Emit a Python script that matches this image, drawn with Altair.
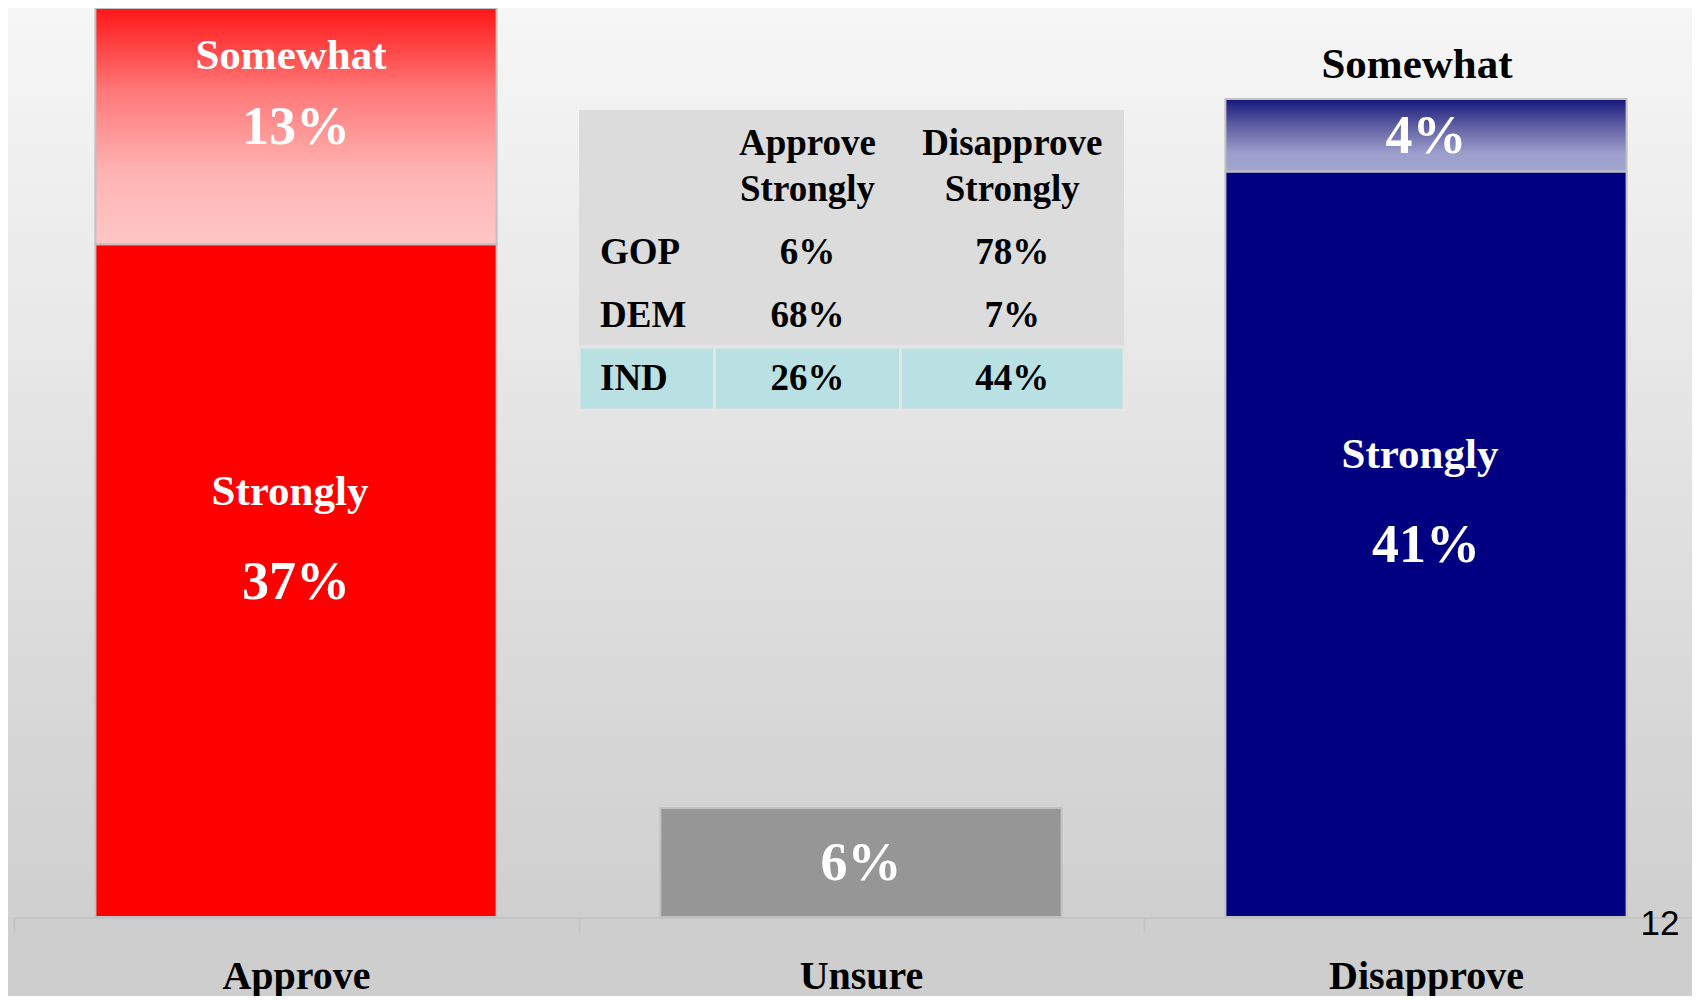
import altair as alt
import pandas as pd

# ---------------- data ----------------
categories = ["Approve", "Unsure", "Disapprove"]
segments = ["Strongly", "Somewhat"]
approve_values = [37, 13]        # Strongly, Somewhat
unsure_values = [6]
disapprove_values = [41, 4]      # Strongly, Somewhat

parties = ["GOP", "DEM", "IND"]
approve_strongly_party = [6, 68, 26]
disapprove_strongly_party = [78, 7, 44]
table_headers = ["Approve\nStrongly", "Disapprove\nStrongly"]
highlight_party = "IND"
page_number = "12"

# ---------------- tables built from the arrays ----------------
rows = []
for cat, segs, vals in [("Approve", segments, approve_values),
                        ("Unsure", ["Unsure"], unsure_values),
                        ("Disapprove", segments, disapprove_values)]:
    lo = 0
    for s, v in zip(segs, vals):
        rows.append(dict(category=cat, segment=s, value=v, lo=lo, hi=lo + v,
                         key=f"{cat} {s}", pct=f"{v}%"))
        lo += v
bars = pd.DataFrame(rows)

cells = []
for j, h in enumerate(table_headers):
    cells.append(dict(row=0, col=j + 1, text=h, party=""))
for i, p in enumerate(parties):
    cells.append(dict(row=i + 1, col=0, text=p, party=p))
    cells.append(dict(row=i + 1, col=1, text=f"{approve_strongly_party[i]}%", party=p))
    cells.append(dict(row=i + 1, col=2, text=f"{disapprove_strongly_party[i]}%", party=p))
cells = pd.DataFrame(cells)

W, H = 1684, 909
SERIF = "Liberation Serif"

# ---------------- main chart ----------------
x_axis = alt.Axis(title=None, labelAngle=0, tickBand="extent", grid=False,
                  labelFont=SERIF, labelFontWeight="bold", labelFontSize=40,
                  labelColor="black", labelBaseline="alphabetic", labelPadding=56,
                  labelLimit=600,
                  tickSize=15, tickColor="#c4c4c4", tickWidth=2,
                  domainColor="#c4c4c4", domainWidth=3)
x_enc = alt.X("category:N", sort=categories,
              scale=alt.Scale(domain=categories, range=[5.5, 1700.5],
                              paddingInner=0, paddingOuter=0),
              axis=x_axis)
y_scale = alt.Scale(domain=[0, 50], nice=False, zero=True)
BAR_W = alt.RelativeBandSize(0.71)

base = alt.Chart(bars).encode(x=x_enc)

bg = alt.Chart(pd.DataFrame({"a": [0]})).mark_rect(
    fill=alt.LinearGradient(gradient="linear", x1=0, x2=0, y1=0, y2=1,
                            stops=[alt.GradientStop(offset=0, color="#f6f6f6"),
                                   alt.GradientStop(offset=1, color="#cfcfcf")])
).encode(x=alt.value(0), x2=alt.value(W), y=alt.value(0), y2=alt.value(H))

solid = base.transform_filter(
    alt.FieldOneOfPredicate(field="segment", oneOf=["Strongly", "Unsure"])
).mark_bar(stroke="#c0c0c0", strokeWidth=2, width=BAR_W).encode(
    y=alt.Y("lo:Q", scale=y_scale, axis=None),
    y2="hi:Q",
    fill=alt.Fill("key:N",
                  scale=alt.Scale(domain=["Approve Strongly", "Unsure Unsure", "Disapprove Strongly"],
                                  range=["#ff0000", "#969696", "#000080"]),
                  legend=None),
)


def grad(stops):
    return alt.LinearGradient(gradient="linear", x1=0, x2=0, y1=0, y2=1,
                              stops=[alt.GradientStop(offset=o, color=c) for o, c in stops])


som_app = base.transform_filter(alt.datum.key == "Approve Somewhat").mark_bar(
    stroke="#c0c0c0", strokeWidth=2, width=BAR_W,
    fill=grad([(0, "#ff1616"), (0.35, "#ff7878"), (0.7, "#ffb4b4"), (1, "#ffc6c6")])
).encode(y=alt.Y("lo:Q", scale=y_scale, axis=None), y2="hi:Q")

som_dis = base.transform_filter(alt.datum.key == "Disapprove Somewhat").mark_bar(
    stroke="#c0c0c0", strokeWidth=2, width=BAR_W,
    fill=grad([(0, "#16167c"), (0.4, "#6464a6"), (0.75, "#9c9fcc"), (1, "#a3a6d2")])
).encode(y=alt.Y("lo:Q", scale=y_scale, axis=None), y2="hi:Q")

txt = dict(font=SERIF, fontWeight="bold", baseline="middle", align="center")

pct = base.transform_calculate(mid="(datum.lo + datum.hi) / 2").mark_text(
    fontSize=54, color="white", dy=2, **txt
).encode(y=alt.Y("mid:Q", scale=y_scale, axis=None), text="pct:N")

strongly_lbl = base.transform_filter(alt.datum.segment == "Strongly").transform_calculate(
    mid="(datum.lo + datum.hi) / 2").mark_text(
    fontSize=43, color="white", dy=-89, dx=-6, **txt
).encode(y=alt.Y("mid:Q", scale=y_scale, axis=None), text="segment:N")

somewhat_app_lbl = base.transform_filter(alt.datum.key == "Approve Somewhat").transform_calculate(
    mid="(datum.lo + datum.hi) / 2").mark_text(
    fontSize=43, color="white", dy=-70, dx=-5, **txt
).encode(y=alt.Y("mid:Q", scale=y_scale, axis=None), text="segment:N")

somewhat_dis_lbl = base.transform_filter(alt.datum.key == "Disapprove Somewhat").mark_text(
    fontSize=43, color="black", dy=-34, dx=-9, **txt
).encode(y=alt.Y("hi:Q", scale=y_scale, axis=None), text="segment:N")

page = alt.Chart(pd.DataFrame({"t": [page_number]})).mark_text(
    font="Liberation Sans", fontSize=35, color="black", align="center", baseline="alphabetic"
).encode(x=alt.value(1652), y=alt.value(927), text="t:N")

main = alt.layer(bg, solid, som_app, som_dis, pct, strongly_lbl,
                 somewhat_app_lbl, somewhat_dis_lbl, page)

# ---------------- table ----------------
tx = alt.Scale(domain=[-0.5, 0.5, 1.5, 2.5], range=[571, 706.5, 892.5, 1116], nice=False, zero=False)
ty = alt.Scale(domain=[-0.5, 0.5, 3.5], range=[102, 213, 402], nice=False, zero=False)

tbase = alt.Chart(cells).transform_calculate(
    left="datum.col - 0.5", right="datum.col + 0.5",
    top="datum.row - 0.5", bottom="datum.row + 0.5")

table_bg = alt.Chart(pd.DataFrame({"a": [0]})).mark_rect(fill="#dcdcdc").encode(
    x=alt.datum(-0.5, scale=tx, axis=None),
    x2=alt.datum(2.5),
    y=alt.datum(-0.5, scale=ty, axis=None),
    y2=alt.datum(3.5),
)

hl = tbase.transform_filter(alt.datum.party == highlight_party).mark_rect(
    fill="#b9e0e3", stroke="#e6e6e6", strokeWidth=3
).encode(
    x=alt.X("left:Q", scale=tx, axis=None), x2="right:Q",
    y=alt.Y("top:Q", scale=ty, axis=None), y2="bottom:Q",
)

tfont = dict(font=SERIF, fontWeight="bold", fontSize=37, color="black", baseline="middle")

row_lbl = tbase.transform_filter(alt.datum.col == 0).mark_text(
    align="left", dx=21, **tfont
).encode(x=alt.X("left:Q", scale=tx, axis=None),
         y=alt.Y("row:Q", scale=ty, axis=None), text="text:N")

vals = tbase.transform_filter((alt.datum.col > 0) & (alt.datum.row > 0)).mark_text(
    align="center", **tfont
).encode(x=alt.X("col:Q", scale=tx, axis=None),
         y=alt.Y("row:Q", scale=ty, axis=None), text="text:N")

heads = tbase.transform_filter(alt.datum.row == 0).mark_text(
    align="center", lineBreak="\n", lineHeight=46, dy=-22, **tfont
).encode(x=alt.X("col:Q", scale=tx, axis=None),
         y=alt.Y("row:Q", scale=ty, axis=None), text="text:N")

table = alt.layer(table_bg, hl, row_lbl, vals, heads)

chart = alt.layer(main, table).resolve_scale(
    x="independent", y="independent"
).properties(
    width=W, height=H,
    padding={"left": 0, "top": 0, "right": 0, "bottom": 79},
    autosize=alt.AutoSizeParams(type="none"),
).configure(background="#cecece").configure_view(stroke=None)

chart.save("out.html", embed_options={"renderer": "svg", "actions": False})
